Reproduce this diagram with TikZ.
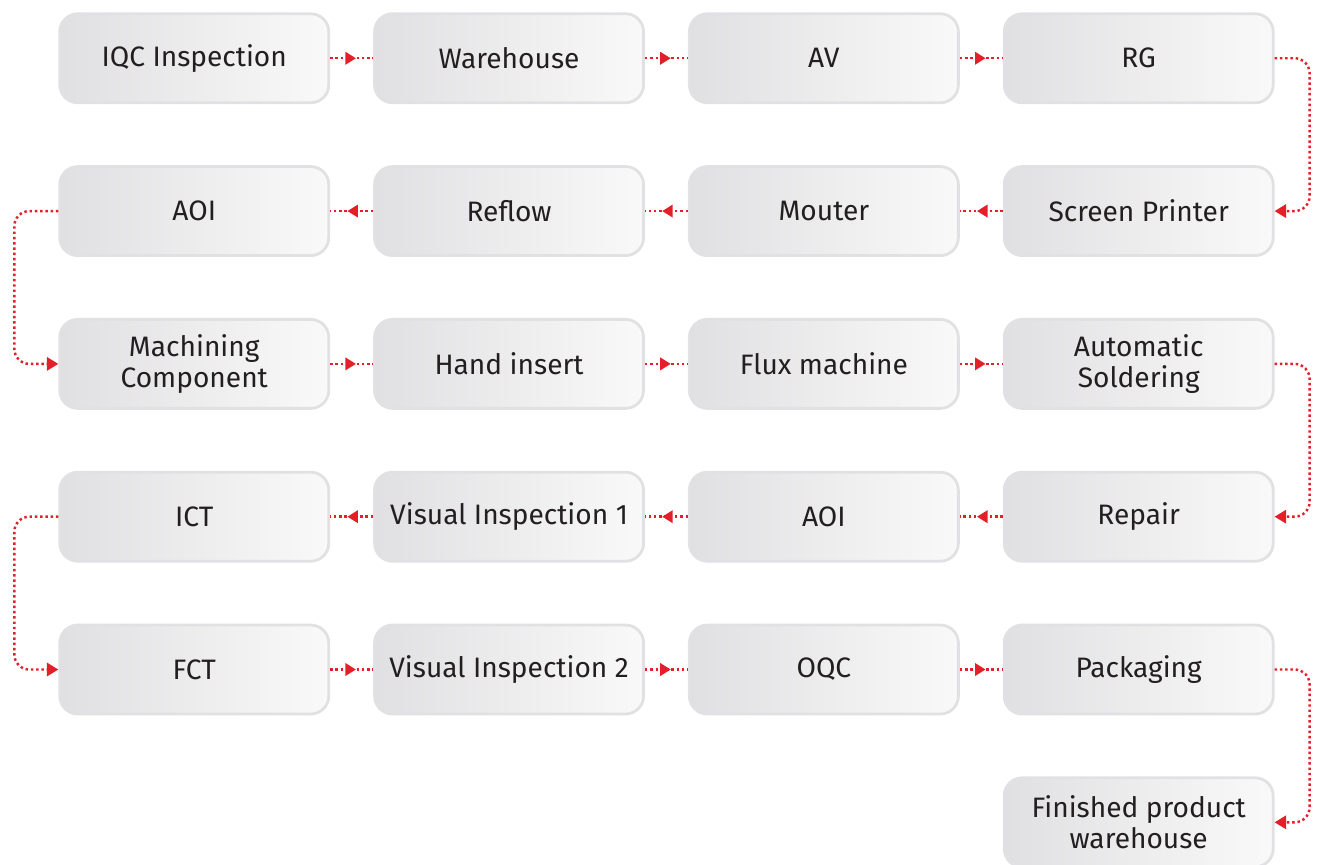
\documentclass[tikz,border=0pt]{standalone}
\usepackage{fontspec}
\setmainfont{Fira Sans}
\usetikzlibrary{matrix,arrows.meta,decorations.markings}
\definecolor{flowred}{HTML}{E3202A}
\definecolor{boxline}{HTML}{E1E1E3}
\definecolor{boxdark}{HTML}{E0E0E2}
\definecolor{boxlight}{HTML}{F9F9F9}
\definecolor{boxtext}{HTML}{231F20}

\begin{document}
\begin{tikzpicture}[
every node/.append style={font={\fontsize{16}{18}\selectfont},text=boxtext},
stage/.style={rounded corners=0.36cm,draw=boxline,line width=1.6pt,left color=boxdark,right color=boxlight,
  minimum width=5.38cm,minimum height=1.78cm,align=center,inner sep=2pt},
link/.style={flowred,line width=1.4pt,dash pattern=on 1.4pt off 1.6pt,postaction={decorate},
  decoration={markings,mark=at position 0.6 with {\arrow{Triangle[length=6pt,width=7pt]}}}},
wrap/.style={flowred,line width=1.4pt,dash pattern=on 1.4pt off 1.6pt,rounded corners=0.3cm,-{Triangle[length=6.5pt,width=7.5pt]}},
]
\useasboundingbox (0,0) rectangle (26.46,-17.28);

\matrix (flow) [row sep=1.22cm,column sep=0.86cm,inner sep=0pt,anchor=north west] at (1.16,-0.24) {
\node[stage] (IQC) {IQC Inspection}; & \node[stage] (WH) {Warehouse}; & \node[stage] (AV) {AV}; & \node[stage] (RG) {RG}; \\
\node[stage] (AOIa) {AOI}; & \node[stage] (RF) {Reflow}; & \node[stage] (MT) {Mouter}; & \node[stage] (SP) {Screen Printer}; \\
\node[stage] (MC) {Machining\\Component}; & \node[stage] (HI) {Hand insert}; & \node[stage] (FM) {Flux machine}; & \node[stage] (AS) {Automatic\\Soldering}; \\
\node[stage] (ICT) {ICT}; & \node[stage] (VI1) {Visual Inspection 1}; & \node[stage] (AOIb) {AOI}; & \node[stage] (RP) {Repair}; \\
\node[stage] (FCT) {FCT}; & \node[stage] (VI2) {Visual Inspection 2}; & \node[stage] (OQC) {OQC}; & \node[stage] (PK) {Packaging}; \\
& & & \node[stage] (FPW) {Finished product\\warehouse}; \\
};

% row 1
\draw[link] (IQC)--(WH);
\draw[link] (WH)--(AV);
\draw[link] (AV)--(RG);
\draw[wrap] (RG.east) -- ++(0.7,0) |- (SP.east);
% row 2
\draw[link] (SP)--(MT);
\draw[link] (MT)--(RF);
\draw[link] (RF)--(AOIa);
\draw[wrap] (AOIa.west) -- ++(-0.88,0) |- (MC.west);
% row 3
\draw[link] (MC)--(HI);
\draw[link] (HI)--(FM);
\draw[link] (FM)--(AS);
\draw[wrap] (AS.east) -- ++(0.7,0) |- (RP.east);
% row 4
\draw[link] (RP)--(AOIb);
\draw[link] (AOIb)--(VI1);
\draw[link] (VI1)--(ICT);
\draw[wrap] (ICT.west) -- ++(-0.88,0) |- (FCT.west);
% row 5
\draw[link] (FCT)--(VI2);
\draw[link] (VI2)--(OQC);
\draw[link] (OQC)--(PK);
\draw[wrap] (PK.east) -- ++(0.7,0) |- (FPW.east);

\end{tikzpicture}
\end{document}
